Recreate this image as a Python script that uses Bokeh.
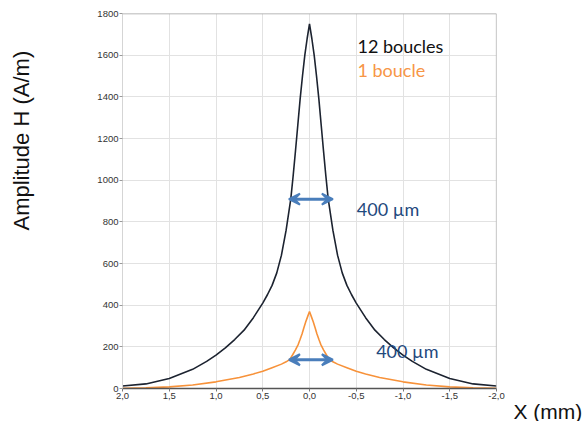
from bokeh.plotting import figure
from bokeh.models import (Range1d, Label, Arrow, VeeHead, Span, FixedTicker,
                          CustomJSTickFormatter, Title, LinearAxis)
from bokeh.embed import file_html
from bokeh.resources import INLINE

# ---- data ----
x_12 = [-2.0, -1.75, -1.5, -1.25, -1.1, -1.0, -0.9, -0.8, -0.7, -0.6, -0.5, -0.45,
        -0.4, -0.35, -0.3, -0.25, -0.2, -0.175, -0.15, -0.125, -0.1, -0.075, -0.05,
        -0.025, 0.0, 0.025, 0.05, 0.075, 0.1, 0.125, 0.15, 0.175, 0.2, 0.25, 0.3,
        0.35, 0.4, 0.45, 0.5, 0.6, 0.7, 0.8, 0.9, 1.0, 1.1, 1.25, 1.5, 1.75, 2.0]
h_12 = [12, 22, 48, 92, 130, 160, 195, 235, 280, 340, 410, 450,
        495, 555, 640, 760, 910, 1020, 1140, 1265, 1390, 1500, 1600,
        1680, 1750, 1680, 1600, 1500, 1390, 1265, 1140, 1020, 910, 760, 640,
        555, 495, 450, 410, 340, 280, 235, 195, 160, 130, 92, 48, 22, 12]

x_1 = [-2.0, -1.75, -1.5, -1.25, -1.0, -0.75, -0.6, -0.5, -0.4, -0.3, -0.25, -0.21,
       -0.18, -0.15, -0.12, -0.1, -0.08, -0.06, -0.04, -0.02, 0.0, 0.02, 0.04, 0.06,
       0.08, 0.1, 0.12, 0.15, 0.18, 0.21, 0.25, 0.3, 0.4, 0.5, 0.6, 0.75, 1.0, 1.25,
       1.5, 1.75, 2.0]
h_1 = [1, 3, 8, 17, 32, 53, 70, 83, 100, 117, 128, 140,
       162, 185, 212, 236, 262, 292, 320, 345, 370, 345, 320, 292,
       262, 236, 212, 185, 162, 140, 128, 117, 100, 83, 70, 53, 32, 17,
       8, 3, 1]

x_ticks = [2.0, 1.5, 1.0, 0.5, 0.0, -0.5, -1.0, -1.5, -2.0]
y_ticks = [0, 200, 400, 600, 800, 1000, 1200, 1400, 1600, 1800]

series_labels = ["12 boucles", "1 boucle"]
width_label = "400 \u00b5m"
x_label = "X (mm)"
y_label = "Amplitude H (A/m)"

# FWHM arrows: (x_start, x_end, y)
fwhm_arrows = [(0.22, -0.25, 909), (0.22, -0.25, 138)]

C_BLACK = "#1c2330"
C_ORANGE = "#f7923a"
C_ORANGE_TXT = "#f79646"
C_BLUE_TXT = "#1f497d"
C_ARROW = "#4a7ebb"

p = figure(width=588, height=421, output_backend="svg", toolbar_location=None,
           x_range=Range1d(2.0, -2.0), y_range=Range1d(0, 1800),
           min_border_left=122, min_border_right=92, min_border_top=13,
           min_border_bottom=33)
p.outline_line_color = None
p.background_fill_color = "white"

p.line(x_12, h_12, line_color=C_BLACK, line_width=1.6)
p.line(x_1, h_1, line_color=C_ORANGE, line_width=1.6)

# grid
for g in (p.xgrid, p.ygrid):
    g.grid_line_color = "#e2e2e2"
    g.grid_line_width = 1
p.xaxis.ticker = FixedTicker(ticks=x_ticks)
p.yaxis.ticker = FixedTicker(ticks=y_ticks)
p.xgrid.ticker = FixedTicker(ticks=x_ticks)
p.ygrid.ticker = FixedTicker(ticks=y_ticks)

# axes
p.xaxis.formatter = CustomJSTickFormatter(code="return tick.toFixed(1).replace('.', ',');")
p.xaxis.axis_line_color = "#555555"
p.xaxis.axis_line_width = 1.5
p.xaxis.major_tick_line_color = "#777777"
p.xaxis.major_tick_out = 3
p.xaxis.major_tick_in = 0
p.xaxis.minor_tick_line_color = None
p.xaxis.major_label_standoff = 1
p.yaxis.axis_line_color = "#d5d5d5"
p.yaxis.major_tick_line_color = "#999999"
p.yaxis.major_tick_out = 3
p.yaxis.major_tick_in = 0
p.yaxis.minor_tick_line_color = None
p.yaxis.major_label_standoff = 1
for ax in (p.xaxis, p.yaxis):
    ax.major_label_text_font = "Liberation Sans"
    ax.major_label_text_font_size = "9.5px"
    ax.major_label_text_color = "#333333"

# frame top/right borders
p.add_layout(Span(location=1800, dimension="width", line_color="#a0a0a0", line_width=1.5))
p.add_layout(Span(location=-2.0, dimension="height", line_color="#a0a0a0", line_width=1.2))

# legend-like texts
p.add_layout(Label(x=-0.513, y=1642, text=series_labels[0], text_font="Lato",
                   text_font_size="18px", text_color="#111111",
                   text_baseline="alphabetic"))
p.add_layout(Label(x=-0.513, y=1529, text=series_labels[1], text_font="Lato",
                   text_font_size="18px", text_color=C_ORANGE_TXT,
                   text_baseline="alphabetic"))
p.add_layout(Label(x=-0.506, y=864, text=width_label, text_font="Lato",
                   text_font_size="18px", text_color=C_BLUE_TXT,
                   text_baseline="alphabetic"))
p.add_layout(Label(x=-0.713, y=182, text=width_label, text_font="Lato",
                   text_font_size="18px", text_color=C_BLUE_TXT,
                   text_baseline="alphabetic"))

for xs, xe, yy in fwhm_arrows:
    p.add_layout(Arrow(x_start=xs, y_start=yy, x_end=xe, y_end=yy,
                       line_color=C_ARROW, line_width=3,
                       start=VeeHead(size=11, line_color=C_ARROW, fill_color=C_ARROW, line_width=2),
                       end=VeeHead(size=11, line_color=C_ARROW, fill_color=C_ARROW, line_width=2)))

# spacer between the y axis and its title (axis with one hidden tick, blank label)
spacer = LinearAxis(ticker=FixedTicker(ticks=[0]), major_tick_out=61, major_tick_in=0,
                    major_tick_line_color=None, minor_tick_line_color=None,
                    axis_line_color=None, major_label_standoff=0,
                    formatter=CustomJSTickFormatter(code="return '';"),
                    major_label_text_font_size="1px")
p.add_layout(spacer, "left")

# axis titles as side-panel titles
p.add_layout(Title(text=x_label, align="left", offset=391, standoff=-8,
                   text_font="Liberation Sans", text_font_size="21px",
                   text_font_style="normal", text_color="#111111"), "below")
p.add_layout(Title(text=y_label, align="left", offset=158, standoff=0,
                   text_font="Liberation Sans", text_font_size="22px",
                   text_font_style="normal", text_color="#111111"), "left")

open("out.html", "w").write(file_html(p, INLINE))
